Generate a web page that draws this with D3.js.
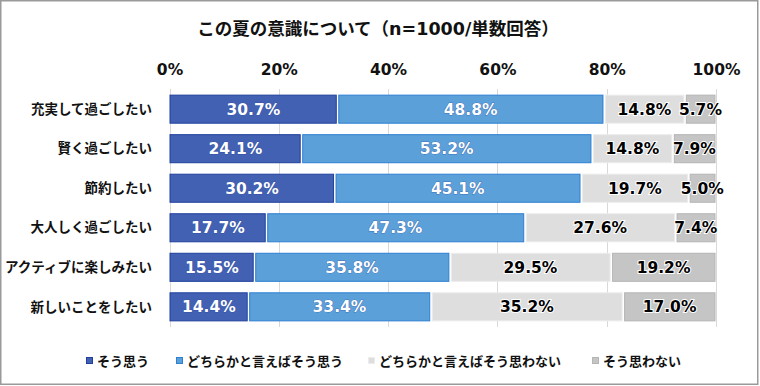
<!DOCTYPE html>
<html>
<head>
<meta charset="utf-8">
<script src="https://cdn.jsdelivr.net/npm/d3@7"></script>
<style>
  body { margin: 0; background: #fff; }
  svg { display: block; font-family: "Noto Sans CJK JP", sans-serif; font-weight: bold; }
  .num { font-family: "DejaVu Sans", "Noto Sans CJK JP", sans-serif; }
</style>
</head>
<body>
<div id="chart"></div>
<script>
// data
const categories = ['充実して過ごしたい', '賢く過ごしたい', '節約したい', '大人しく過ごしたい', 'アクティブに楽しみたい', '新しいことをしたい'];
const seriesNames = ['そう思う', 'どちらかと言えばそう思う', 'どちらかと言えばそう思わない', 'そう思わない'];
const soOmou = [30.7, 24.1, 30.2, 17.7, 15.5, 14.4];
const dochiraOmou = [48.8, 53.2, 45.1, 47.3, 35.8, 33.4];
const dochiraOmowanai = [14.8, 14.8, 19.7, 27.6, 29.5, 35.2];
const omowanai = [5.7, 7.9, 5.0, 7.4, 19.2, 17.0];
const tickValues = [0, 20, 40, 60, 80, 100];

const fills = ['#4361b3', '#5ba0d8', '#dedede', '#c5c5c5'];
const strokes = ['#1f3f9c', '#2d7fd2', '#ececec', '#b5b5b5'];
const textColors = ['#fff', '#fff', '#000', '#000'];

const width = 760, height = 386;

const svg = d3.select('#chart').append('svg')
  .attr('width', width)
  .attr('height', height);

// frame
svg.append('rect')
  .attr('x', 0.75).attr('y', 0.75)
  .attr('width', 757).attr('height', 383.5)
  .attr('fill', 'none')
  .attr('stroke', '#9a9a9a')
  .attr('stroke-width', 1.5);

svg.append('text')
  .attr('class', 'num')
  .attr('x', 378).attr('y', 35)
  .attr('text-anchor', 'middle')
  .attr('font-size', 17.5)
  .attr('fill', '#111')
  .text('この夏の意識について（n=1000/単数回答）');

const x = d3.scaleLinear().domain([0, 100]).range([169.5, 716]);
const y = d3.scaleBand().domain(categories).range([89.5, 326.5]).paddingInner(0.265).paddingOuter(0.13);

// grid
svg.append('g')
  .selectAll('line')
  .data(tickValues)
  .enter()
  .append('line')
  .attr('x1', d => Math.round(x(d)) + 0.5)
  .attr('x2', d => Math.round(x(d)) + 0.5)
  .attr('y1', 89)
  .attr('y2', 327)
  .attr('stroke', '#d9d9d9')
  .attr('stroke-width', 1);

// top axis labels
const xAxis = d3.axisTop(x)
  .tickValues(tickValues)
  .tickFormat(d => d + '%')
  .tickSize(0)
  .tickPadding(0);

const gx = svg.append('g')
  .attr('transform', 'translate(0,75)')
  .call(xAxis);
gx.select('.domain').remove();
gx.selectAll('text')
  .attr('font-size', 15.5)
  .attr('font-family', '"DejaVu Sans", sans-serif')
  .attr('font-weight', 'bold')
  .attr('fill', '#111');

// category labels
svg.append('g')
  .selectAll('text')
  .data(categories)
  .enter()
  .append('text')
  .attr('x', 152)
  .attr('y', d => y(d) + y.bandwidth() / 2)
  .attr('dy', '0.35em')
  .attr('text-anchor', 'end')
  .attr('font-size', 13.5)
  .attr('fill', '#111')
  .text(d => d);

// stacked data
const table = categories.map((c, i) => ({
  cat: c,
  s0: soOmou[i], s1: dochiraOmou[i], s2: dochiraOmowanai[i], s3: omowanai[i]
}));
const stack = d3.stack().keys(['s0', 's1', 's2', 's3'])(table);

const layers = svg.append('g')
  .selectAll('g')
  .data(stack)
  .enter()
  .append('g');

layers.selectAll('rect')
  .data((d, k) => d.map(p => ({ p, k })))
  .enter()
  .append('rect')
  .attr('x', d => x(d.p[0]) + (d.k === 0 ? 0.5 : 1.5))
  .attr('y', d => y(d.p.data.cat) + 0.5)
  .attr('width', d => x(d.p[1]) - x(d.p[0]) - (d.k === 0 ? 1.5 : 2.5))
  .attr('height', y.bandwidth() - 1)
  .attr('fill', d => fills[d.k])
  .attr('stroke', d => strokes[d.k])
  .attr('stroke-width', 1);

layers.selectAll('text')
  .data((d, k) => d.map(p => ({ p, k })))
  .enter()
  .append('text')
  .attr('class', 'num')
  .attr('x', d => (x(d.p[0]) + x(d.p[1])) / 2)
  .attr('y', d => y(d.p.data.cat) + y.bandwidth() / 2)
  .attr('dy', '0.36em')
  .attr('text-anchor', 'middle')
  .attr('font-size', 15.5)
  .attr('fill', d => textColors[d.k])
  .attr('stroke', d => d.k < 2 ? '#1f3f9c' : '#fff')
  .attr('stroke-width', d => d.k < 2 ? 0.5 : 2)
  .attr('paint-order', 'stroke')
  .text(d => (d.p[1] - d.p[0]).toFixed(1) + '%');

// legend
const legendX = [86, 176, 368, 592];
const legend = svg.append('g')
  .selectAll('g')
  .data(seriesNames)
  .enter()
  .append('g')
  .attr('transform', (d, i) => 'translate(' + legendX[i] + ',361)');

legend.append('rect')
  .attr('x', 0.5).attr('y', -3.5)
  .attr('width', 6).attr('height', 6)
  .attr('fill', (d, i) => fills[i])
  .attr('stroke', (d, i) => strokes[i])
  .attr('stroke-width', 1);

legend.append('text')
  .attr('x', 11)
  .attr('y', 0)
  .attr('dy', '0.36em')
  .attr('font-size', 13)
  .attr('fill', '#111')
  .text(d => d);
</script>
</body>
</html>
